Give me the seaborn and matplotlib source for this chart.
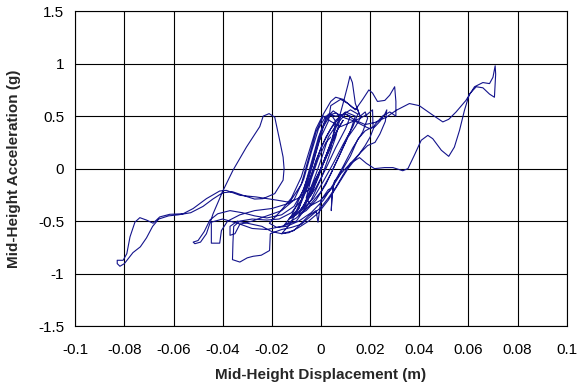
import numpy as np
import pandas as pd
import matplotlib
matplotlib.use('Agg')
import matplotlib.pyplot as plt
import seaborn as sns

# mid-height displacement (m) / acceleration (g), traced in time order, segment by segment
start_x = [0.000, 0.002, 0.004, 0.006, 0.005, 0.002, -0.001, -0.004, -0.006, -0.004, -0.001, 0.002,
           0.005, 0.008, 0.009, 0.007, 0.003, 0.000, -0.003, -0.007, -0.009, -0.007, -0.003, 0.001]
start_y = [0.000, 0.100, 0.220, 0.320, 0.280, 0.120, -0.050, -0.200, -0.300, -0.250, -0.080, 0.120,
           0.300, 0.420, 0.460, 0.380, 0.180, 0.000, -0.180, -0.350, -0.420, -0.380, -0.180, 0.050]

peak_x = [0.004, 0.007, 0.009, 0.011, 0.0118, 0.0128, 0.014, 0.016, 0.018, 0.019, 0.017, 0.013, 0.009,
          0.005, 0.001, -0.004, -0.009, -0.014, -0.018, -0.021, -0.017, -0.012, -0.008, -0.005, -0.002, 0.001]
peak_y = [0.250, 0.450, 0.620, 0.800, 0.880, 0.820, 0.620, 0.500, 0.540, 0.480, 0.350, 0.200, 0.020,
          -0.150, -0.300, -0.420, -0.500, -0.550, -0.560, -0.520, -0.420, -0.280, -0.080, 0.150, 0.380, 0.520]

top_x = [0.004, 0.006, 0.009, 0.011, 0.013, 0.015, 0.016, 0.014, 0.011, 0.008, 0.005, 0.002, -0.002,
         -0.006, -0.009, -0.006, -0.002, 0.001]
top_y = [0.640, 0.680, 0.660, 0.620, 0.580, 0.560, 0.480, 0.400, 0.300, 0.150, 0.000, -0.150, -0.300,
         -0.400, -0.440, -0.300, -0.050, 0.150]

core_x = [0.003, 0.007, 0.010, 0.012, 0.010, 0.006, 0.002, -0.002, -0.006, -0.010, -0.013, -0.010, -0.006,
          -0.003, 0.000, 0.004, 0.008, 0.012, 0.015, 0.013, 0.009, 0.005, 0.001, -0.003, -0.008, -0.012,
          -0.009, -0.005, -0.002, 0.002, 0.006, 0.010, 0.014, 0.012, 0.008, 0.004, 0.000, -0.005, -0.010,
          -0.015, -0.012, -0.008, -0.004, -0.001, 0.003]
core_y = [0.300, 0.440, 0.520, 0.500, 0.380, 0.200, 0.000, -0.180, -0.320, -0.440, -0.480, -0.400, -0.200,
          0.000, 0.200, 0.380, 0.500, 0.560, 0.520, 0.400, 0.230, 0.050, -0.120, -0.280, -0.400, -0.470,
          -0.380, -0.150, 0.080, 0.300, 0.460, 0.540, 0.500, 0.360, 0.150, -0.050, -0.220, -0.360, -0.470,
          -0.540, -0.450, -0.250, 0.000, 0.250, 0.450]

spike_x = [0.004, 0.008, 0.011, 0.014, 0.017, 0.0195, 0.021, 0.023, 0.026, 0.028, 0.0295, 0.030, 0.0305,
           0.0305, 0.028, 0.025, 0.022, 0.020, 0.018, 0.015, 0.011, 0.007, 0.003, -0.001, -0.005, -0.009,
           -0.013, -0.016, -0.013, -0.009, -0.006, -0.003, 0.000, 0.003]
spike_y = [0.600, 0.660, 0.620, 0.560, 0.660, 0.750, 0.720, 0.640, 0.650, 0.700, 0.760, 0.780, 0.640,
           0.500, 0.540, 0.500, 0.420, 0.300, 0.220, 0.120, 0.000, -0.150, -0.300, -0.420, -0.500, -0.560,
           -0.610, -0.620, -0.540, -0.380, -0.150, 0.100, 0.350, 0.520]

right_x = [0.006, 0.010, 0.014, 0.018, 0.022, 0.0266, 0.0306, 0.036, 0.040, 0.0455, 0.0496, 0.052, 0.055,
           0.059, 0.0625, 0.0659, 0.0686, 0.070, 0.0709, 0.0711, 0.0706, 0.0686, 0.0659, 0.0632, 0.0604,
           0.0584, 0.0564, 0.0543, 0.052, 0.049, 0.0455, 0.0435, 0.0408, 0.038, 0.0354, 0.0333, 0.0293,
           0.0259, 0.0218, 0.0185, 0.0157, 0.012, 0.009, 0.006, 0.003, 0.000, -0.004, -0.008, -0.012]
right_y = [0.500, 0.520, 0.460, 0.420, 0.440, 0.490, 0.555, 0.620, 0.600, 0.510, 0.445, 0.470, 0.540,
           0.650, 0.780, 0.820, 0.810, 0.870, 0.980, 0.900, 0.680, 0.710, 0.770, 0.780, 0.710,
           0.555, 0.365, 0.205, 0.117, 0.175, 0.285, 0.317, 0.270, 0.127, 0.000, -0.020, 0.010,
           0.010, 0.000, 0.050, 0.105, 0.050, -0.060, -0.180, -0.280, -0.370, -0.450, -0.530, -0.560]

bottom_x = [-0.016, -0.0206, -0.0209, -0.0243, -0.0276, -0.030, -0.033, -0.036, -0.0358, -0.0355, -0.033,
            -0.028, -0.022, -0.017, -0.012, -0.008, -0.005, -0.002, 0.001, 0.004, 0.006, 0.004, 0.000,
            -0.004, -0.009, -0.013]
bottom_y = [-0.580, -0.620, -0.780, -0.825, -0.835, -0.850, -0.890, -0.867, -0.700, -0.550, -0.500,
            -0.480, -0.490, -0.480, -0.420, -0.300, -0.100, 0.150, 0.400, 0.520, 0.450, 0.200, 0.000,
            -0.180, -0.280, -0.320]

tail_x = [-0.018, -0.0263, -0.033, -0.0385, -0.0412, -0.0466, -0.052, -0.0561, -0.0615, -0.0656, -0.0683,
          -0.071, -0.0737, -0.0757, -0.0777, -0.079, -0.0805, -0.0829, -0.0829, -0.0818, -0.080, -0.0785,
          -0.0765, -0.0735, -0.071, -0.0685, -0.066, -0.062, -0.058, -0.053, -0.048, -0.044, -0.040,
          -0.036, -0.031, -0.027]
tail_y = [-0.300, -0.270, -0.254, -0.207, -0.213, -0.286, -0.380, -0.430, -0.435, -0.460, -0.520,
          -0.490, -0.467, -0.510, -0.650, -0.810, -0.873, -0.873, -0.905, -0.930, -0.905, -0.860,
          -0.800, -0.745, -0.660, -0.550, -0.480, -0.450, -0.440, -0.420, -0.360, -0.290, -0.230,
          -0.220, -0.260, -0.290]

hump_x = [-0.0236, -0.0188, -0.0154, -0.015, -0.0154, -0.0168, -0.0188, -0.0211, -0.0235, -0.0249, -0.0303,
          -0.0358, -0.0398, -0.0439, -0.0466, -0.049, -0.0513, -0.052, -0.050, -0.0475, -0.0452, -0.042,
          -0.037, -0.032, -0.027, -0.022, -0.016, -0.011, -0.007, -0.004, -0.001, 0.002, 0.005]
hump_y = [-0.286, -0.238, -0.110, 0.000, 0.110, 0.270, 0.490, 0.524, 0.500, 0.400, 0.206,
          -0.016, -0.207, -0.430, -0.620, -0.700, -0.715, -0.700, -0.685, -0.600, -0.490, -0.430,
          -0.400, -0.420, -0.450, -0.470, -0.440, -0.360, -0.200, 0.050, 0.300, 0.480, 0.550]

step_x = [0.008, 0.006, 0.003, 0.000, -0.004, -0.010, -0.016, -0.022, -0.028, -0.034, -0.040, -0.0446,
          -0.0446, -0.0412, -0.0405, -0.038, -0.033, -0.027, -0.020, -0.013, -0.008, -0.005, -0.002, 0.001]
step_y = [0.500, 0.300, 0.100, -0.100, -0.300, -0.500, -0.550, -0.580, -0.570, -0.520, -0.480, -0.510,
          -0.710, -0.710, -0.590, -0.500, -0.440, -0.400, -0.380, -0.330, -0.150, 0.100, 0.350, 0.500]

end_x = [0.004, 0.008, 0.012, 0.016, 0.019, 0.021, 0.0212, 0.018, 0.015, 0.012, 0.009, 0.007, 0.0055,
         0.0045, 0.0042, 0.0045, 0.005, 0.003, 0.000, -0.0012, -0.002, -0.005, -0.011, -0.016, -0.020,
         -0.024, -0.030, -0.034, -0.037, -0.037, -0.035, -0.033, -0.028, -0.022, -0.016, -0.011, -0.007,
         -0.004, -0.001, 0.002, 0.006, 0.010, 0.014, 0.018, 0.020, 0.022, 0.024, 0.026, 0.0268, 0.0262,
         0.024, 0.022, 0.019, 0.016, 0.012, 0.008, 0.004, 0.000, -0.004, -0.006, -0.004, -0.001, 0.002, 0.004]
end_y = [0.450, 0.400, 0.440, 0.480, 0.520, 0.560, 0.400, 0.360, 0.280, 0.120, 0.000, -0.080, -0.120,
         -0.250, -0.400, -0.280, -0.180, -0.200, -0.300, -0.510, -0.400, -0.450, -0.590, -0.620, -0.600,
         -0.550, -0.520, -0.500, -0.550, -0.635, -0.620, -0.530, -0.500, -0.450, -0.400, -0.300, -0.100,
         0.150, 0.380, 0.500, 0.530, 0.480, 0.450, 0.400, 0.380, 0.400, 0.450, 0.520, 0.560, 0.450,
         0.330, 0.250, 0.220, 0.150, 0.050, -0.050, -0.200, -0.300, -0.350, -0.280, -0.100, 0.100, 0.250, 0.300]

x_ticks = [-0.1, -0.08, -0.06, -0.04, -0.02, 0, 0.02, 0.04, 0.06, 0.08, 0.1]
x_labels = ['-0.1', '-0.08', '-0.06', '-0.04', '-0.02', '0', '0.02', '0.04', '0.06', '0.08', '0.1']
y_ticks = [-1.5, -1, -0.5, 0, 0.5, 1, 1.5]
y_labels = ['-1.5', '-1', '-0.5', '0', '0.5', '1', '1.5']

xs = [start_x, peak_x, top_x, core_x, spike_x, right_x, bottom_x, tail_x, hump_x, step_x, end_x]
ys = [start_y, peak_y, top_y, core_y, spike_y, right_y, bottom_y, tail_y, hump_y, step_y, end_y]
df = pd.DataFrame({'disp': np.concatenate(xs), 'acc': np.concatenate(ys)})

sns.set_theme(style='white')
plt.rcParams['font.family'] = ['Liberation Sans', 'DejaVu Sans']

fig, ax = plt.subplots(figsize=(5.83, 3.85), dpi=100)
fig.subplots_adjust(left=0.129, right=0.972, top=0.971, bottom=0.153)

sns.lineplot(data=df, x='disp', y='acc', sort=False, estimator=None,
             color='#14148c', lw=0.8, ax=ax)

ax.set_xlim(-0.1, 0.1)
ax.set_ylim(-1.5, 1.5)
ax.set_xticks(x_ticks)
ax.set_xticklabels(x_labels)
ax.set_yticks(y_ticks)
ax.set_yticklabels(y_labels)
ax.grid(True, color='black', lw=0.8)
ax.tick_params(direction='inout', length=6, width=0.8, color='black',
               labelsize=11, labelcolor='black')
ax.tick_params(axis='x', pad=9)
ax.tick_params(axis='y', pad=5)
for s in ax.spines.values():
    s.set_color('black')
    s.set_linewidth(0.8)

ax.set_xlabel('Mid-Height Displacement (m)', fontsize=11, fontweight='bold', labelpad=8)
ax.set_ylabel('Mid-Height Acceleration (g)', fontsize=11, fontweight='bold', labelpad=12)

fig.savefig('out.png', dpi=100)
